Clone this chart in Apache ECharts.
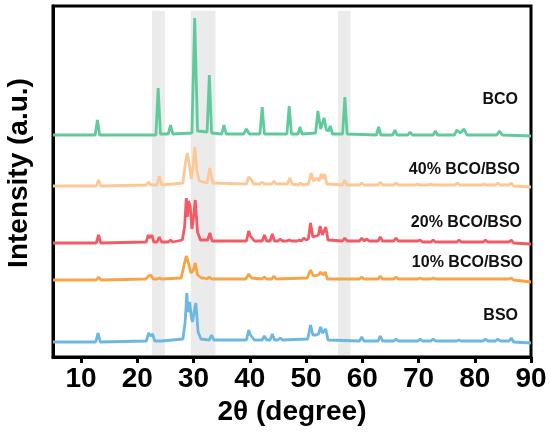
<!DOCTYPE html>
<html>
<head>
<meta charset="utf-8">
<script src="https://cdn.jsdelivr.net/npm/echarts@6/dist/echarts.min.js"></script>
<style>
  html, body { margin: 0; padding: 0; background: #fff; }
  #xrd { width: 550px; height: 435px; }
</style>
</head>
<body>
<div id="xrd"></div>
<script>
// 2θ ticks
var tickValues = [10, 20, 30, 40, 50, 60, 70, 80, 90];
// grey highlight bands, [from, to] in degrees
var bands = [[22.6, 24.9], [29.5, 33.9], [55.7, 57.9]];
var names = ['BCO', '40% BCO/BSO', '20% BCO/BSO', '10% BCO/BSO', 'BSO'];

// patterns, [2θ, stacked intensity]
var bcoData = [[5,222],[12.5,222],[12.9,237],[13.3,222],[23.3,222],[23.7,269],[24.1,223],[25.5,223],[25.9,232],[26.3,223],
  [29.7,224],[30.2,339],[30.7,226],[32.4,225],[32.8,282],[33.2,224],[35.0,223],[35.4,232],[35.8,223],[38.9,223],[39.4,228],
  [39.9,223],[41.8,223],[42.2,250],[42.6,223],[46.6,223],[47.0,251],[47.4,223],[48.6,223],[48.9,230],[49.3,223],[51.7,224],
  [52.1,246],[52.6,228],[53.2,239],[53.6,227],[54.0,226],[54.3,231],[54.7,223],[56.5,223],[56.9,260],[57.3,223],[62.5,222],
  [62.9,230],[63.3,222],[65.4,222],[65.8,227],[66.2,222],[68.1,222],[68.5,225],[68.9,222],[72.6,222],[73.0,226],[73.4,222],
  [76.4,222],[76.8,227],[77.4,224],[78.1,228],[78.6,222],[83.9,222],[84.4,226],[84.9,222],[90,221]];
var bco40Data = [[5,171],[12.7,171],[13.1,177],[13.5,171],[21.6,172],[22.0,175],[22.4,172],[23.5,172],[23.9,181],[24.3,172],
  [28.1,174],[28.6,196],[28.9,204],[29.3,190],[29.6,178],[29.9,190],[30.2,210],[30.6,186],[31.0,176],[32.4,174],[32.9,189],
  [33.4,174],[39.4,173],[39.8,180],[40.3,177],[40.7,173],[41.8,173],[42.2,175],[42.6,173],[43.9,173],[44.3,176],[44.7,173],
  [46.7,173],[47.1,179],[47.5,173],[48.6,172],[49.0,174],[49.4,172],[50.4,173],[50.9,184],[51.3,176],[51.9,179],[52.3,176],
  [52.7,183],[53.0,178],[53.3,183],[53.7,173],[56.5,172],[56.9,177],[57.3,172],[59.5,172],[59.9,174],[60.3,172],[62.8,172],
  [63.2,175],[63.6,172],[65.6,172],[66.0,174],[66.4,172],[69.4,172],[69.8,173],[70.2,172],[71.8,172],[72.2,173],[72.6,172],
  [76.5,172],[76.9,174],[77.3,172],[81.3,172],[81.7,173],[82.1,172],[83.7,172],[84.1,174],[84.5,172],[86.1,172],[86.5,174],
  [86.9,171],[90,170]];
var bco20Data = [[5,114],[12.7,114],[13.1,122],[13.5,114],[21.6,115],[21.9,122],[22.2,119],[22.6,122],[22.9,115],[23.5,115],
  [23.9,120],[24.3,115],[25.5,115],[25.9,117],[26.3,115],[28.0,117],[28.4,130],[28.7,159],[28.9,140],[29.1,156],[29.4,150],
  [29.7,128],[30.0,140],[30.3,157],[30.7,125],[31.2,117],[32.5,117],[32.9,124],[33.3,116],[39.4,116],[39.8,126],[40.1,121],
  [40.4,122],[40.8,116],[42.2,116],[42.6,122],[43.0,116],[43.6,116],[44.0,123],[44.4,116],[45.0,116],[45.4,118],[45.8,116],
  [46.6,116],[47.0,117],[47.4,116],[48.4,116],[48.8,117],[49.2,116],[49.6,119],[50.0,117],[50.4,118],[50.8,134],[51.2,120],
  [51.8,121],[52.2,122],[52.5,131],[52.9,122],[53.2,123],[53.5,130],[53.9,117],[56.5,116],[56.9,119],[57.3,116],[59.5,116],
  [59.9,119],[60.3,116],[60.8,118],[61.2,116],[62.8,116],[63.2,120],[63.6,116],[65.6,116],[66.0,119],[66.4,116],[69.9,116],
  [70.3,117],[70.7,115],[72.2,115],[72.6,117],[73.0,115],[76.8,115],[77.2,117],[77.6,115],[81.5,115],[81.9,117],[82.3,115],
  [86.1,115],[86.5,117],[86.9,114],[90,113]];
var bco10Data = [[5,77],[12.7,77],[13.1,80],[13.5,77],[21.5,78],[22.0,81],[22.4,82],[22.8,78],[23.5,78],[23.9,79],[24.3,78],
  [27.8,79],[28.3,92],[28.7,101],[29.1,94],[29.5,84],[29.9,86],[30.3,94],[30.7,82],[31.4,79],[31.8,79],[32.4,78],[32.8,80],
  [33.2,78],[39.3,78],[39.8,83],[40.3,79],[42.2,78],[42.6,80],[43.0,78],[43.9,78],[44.3,81],[44.7,78],[50.2,79],[50.8,87],
  [51.3,81],[52.2,82],[52.6,85],[53.0,82],[53.4,85],[53.8,78],[59.5,78],[59.9,80],[60.3,78],[62.8,78],[63.2,81],[63.6,78],
  [65.6,78],[66.0,80],[66.4,78],[69.9,78],[70.3,79],[70.7,78],[72.2,78],[72.6,79],[73.0,78],[86.1,78],[86.5,79],[86.9,77],
  [90,75]];
var bsoData = [[5,15],[12.6,15],[13.0,24],[13.4,15],[21.6,16],[22.0,24],[22.3,21],[22.7,23],[23.1,16],[23.6,16],[23.9,17],
  [24.3,16],[28.1,18],[28.5,35],[28.8,64],[29.0,45],[29.3,55],[29.6,40],[29.8,35],[30.1,45],[30.4,54],[30.8,25],[31.3,18],
  [32.8,17],[33.2,22],[33.6,17],[39.4,17],[39.8,27],[40.1,22],[40.4,23],[40.8,17],[42.2,17],[42.6,21],[43.0,17],[43.6,17],
  [44.0,23],[44.4,17],[45.0,17],[45.4,19],[45.8,17],[50.3,18],[50.8,32],[51.2,22],[51.8,22],[52.2,23],[52.6,30],[52.9,24],
  [53.2,25],[53.5,28],[53.9,17],[59.5,16],[59.9,20],[60.3,16],[62.8,16],[63.2,21],[63.6,16],[65.6,16],[66.0,18],[66.4,16],
  [69.9,16],[70.3,18],[70.7,16],[72.2,16],[72.6,18],[73.0,16],[76.8,16],[77.2,17],[77.6,16],[81.5,16],[81.9,18],[82.3,16],
  [83.7,16],[84.1,18],[84.5,16],[86.1,16],[86.5,19],[86.9,15],[90,14]];

var colors = ['#5fcb9b', '#fcc896', '#f15b66', '#f7a445', '#6db7e1'];
var seriesData = [bcoData, bco40Data, bco20Data, bco10Data, bsoData];
// label anchor (right edge x, middle y) in px
var labelPos = [[518, 100], [520, 170], [522, 223], [523, 263], [518, 316]];

var font = '"Liberation Sans", Arial, sans-serif';
var chart = echarts.init(document.getElementById('xrd'));

var series = [{
  name: 'bands',
  type: 'line',
  data: [],
  silent: true,
  z: 1,
  markArea: {
    silent: true,
    itemStyle: { color: '#ebebeb' },
    data: bands.map(function (b) {
      return [{ xAxis: b[0], yAxis: 2 }, { xAxis: b[1], yAxis: 346 }];
    })
  }
}];
for (var i = seriesData.length - 1; i >= 0; i--) {
  series.push({
    name: names[i],
    type: 'line',
    data: seriesData[i],
    showSymbol: false,
    symbol: 'none',
    z: 3,
    lineStyle: { color: colors[i], width: 2.8 }
  });
}

var graphic = [{
  type: 'text',
  x: 19, y: 173,
  rotation: Math.PI / 2,
  style: {
    text: 'Intensity (a.u.)',
    font: 'bold 28px ' + font,
    fill: '#000',
    align: 'center',
    verticalAlign: 'middle'
  }
}];
names.forEach(function (n, k) {
  graphic.push({
    type: 'text',
    x: labelPos[k][0], y: labelPos[k][1],
    style: {
      text: n,
      font: 'bold 16px ' + font,
      fill: '#111',
      align: 'right',
      verticalAlign: 'middle'
    }
  });
});

var option = {
  animation: false,
  grid: {
    left: 53, right: 19, top: 6, bottom: 78,
    show: true,
    borderColor: '#000',
    borderWidth: 3
  },
  xAxis: {
    type: 'value',
    min: 5,
    max: 90,
    name: '2θ (degree)',
    nameLocation: 'middle',
    nameGap: 40,
    nameTextStyle: { fontFamily: font, fontWeight: 'bold', fontSize: 28, color: '#000' },
    axisLine: { lineStyle: { color: '#000', width: 3 } },
    axisTick: { show: true, inside: false, length: 6, customValues: tickValues, lineStyle: { color: '#000', width: 3 } },
    axisLabel: { customValues: tickValues, margin: 8, fontFamily: font, fontWeight: 'bold', fontSize: 28, color: '#000' },
    splitLine: { show: false }
  },
  yAxis: {
    type: 'value',
    min: 0,
    max: 351,
    axisLine: { show: true, lineStyle: { color: '#000', width: 3 } },
    axisTick: { show: false },
    axisLabel: { show: false },
    splitLine: { show: false }
  },
  graphic: graphic,
  series: series
};

chart.setOption(option, true);
</script>
</body>
</html>
